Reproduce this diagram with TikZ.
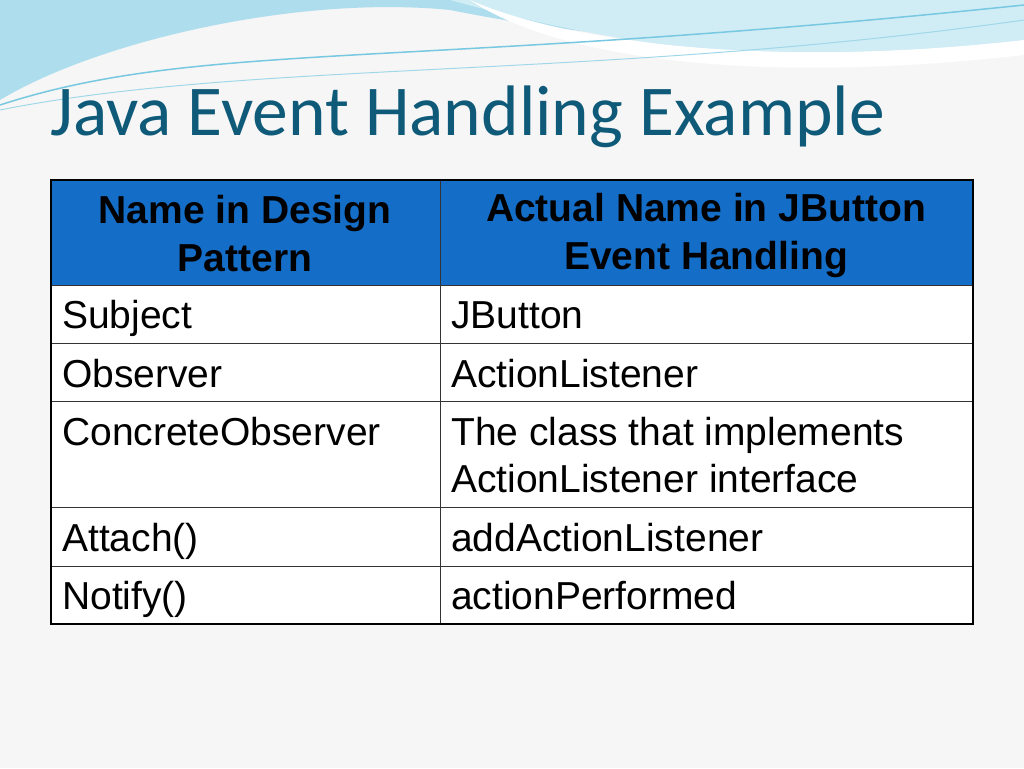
\documentclass[tikz,border=0pt]{standalone}
\usepackage{fontspec}
\setmainfont{Liberation Sans}
\newfontfamily\titlefont{Carlito}
\definecolor{hdr}{RGB}{20,110,200}
\definecolor{ttl}{RGB}{14,90,120}
\definecolor{bg}{RGB}{246,246,246}
\definecolor{wv}{RGB}{120,200,225}
\begin{document}
\begin{tikzpicture}[x=1pt,y=-1pt,
  cell/.style={anchor=base west,font=\fontsize{39}{46}\selectfont,inner sep=0pt},
  hcell/.style={anchor=center,align=center,font=\fontsize{39}{48}\selectfont\bfseries,inner sep=0pt}]
\useasboundingbox (0,0) rectangle (1024,768);
\fill[bg] (0,0) rectangle (1024,768);
% waves
\fill[wv!60] (0,0) -- (1024,0) -- (1024,20) .. controls (800,60) and (600,40) .. (450,10) .. controls (300,-5) and (100,40) .. (0,100) -- cycle;
\fill[wv!35] (450,0) -- (1024,0) -- (1024,45) .. controls (850,75) and (650,55) .. (450,0) -- cycle;
\fill[white] (470,0) .. controls (560,40) and (760,70) .. (1024,40) -- (1024,55) .. controls (760,85) and (560,60) .. (470,0) -- cycle;
\draw[wv,line width=1.5pt] (0,105) .. controls (200,40) and (400,70) .. (1024,5);
\draw[wv!70,line width=1pt] (0,110) .. controls (250,60) and (600,80) .. (1024,20);
\node[anchor=base west,inner sep=0pt,text=ttl,font=\titlefont\fontsize{71.5}{80}\selectfont] (title) at (50,135) {Java Event Handling Example};
% table
\fill[hdr] (51,180) rectangle (973,285);
\fill[white] (51,285) rectangle (973,624);
\draw[black!80,line width=1pt] (51,343) -- (973,343) (51,401) -- (973,401) (51,507) -- (973,507) (51,566) -- (973,566) (51,285) -- (973,285);
\draw[black!80,line width=1pt] (440,180) -- (440,624);
\draw[black,line width=2.5pt] (51,180) rectangle (973,624);
\node[hcell] (h1) at (245,234) {Name in Design\\Pattern};
\node[hcell] (h2) at (706,235) {Actual Name in JButton\\Event Handling};
\node[cell] (a1) at (62,328) {Subject};
\node[cell] (b1) at (451,328) {JButton};
\node[cell] (a2) at (62,387) {Observer};
\node[cell] (b2) at (451,387) {ActionListener};
\node[cell] (a3) at (62,445) {ConcreteObserver};
\node[cell] (b3) at (451,445) {The class that implements};
\node[cell] (b3b) at (451,492) {ActionListener interface};
\node[cell] (a4) at (62,551) {Attach()};
\node[cell] (b4) at (451,551) {addActionListener};
\node[cell] (a5) at (62,609) {Notify()};
\node[cell] (b5) at (451,609) {actionPerformed};
\end{tikzpicture}
\end{document}
